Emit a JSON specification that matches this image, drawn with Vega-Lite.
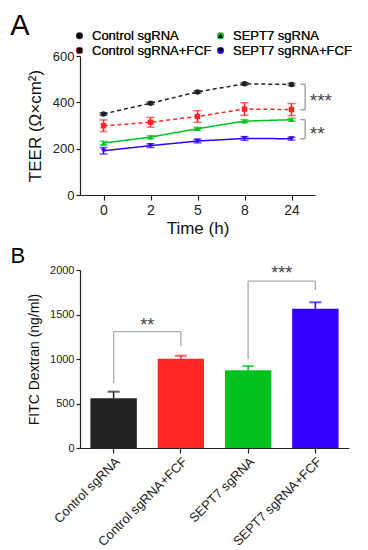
{
  "$schema": "https://vega.github.io/schema/vega-lite/v6.json",
  "padding": {"left": 10, "top": 12, "right": 5, "bottom": 5},
  "spacing": 9,
  "config": {
    "font": "Liberation Sans",
    "view": {"stroke": null},
    "axis": {"grid": false, "domainColor": "#222", "tickColor": "#222", "labelColor": "#222", "titleColor": "#111", "titleFontWeight": "normal", "labelFont": "Liberation Sans", "titleFont": "Liberation Sans", "domainWidth": 1.2, "tickWidth": 1.2},
    "legend": {"labelFont": "Liberation Sans"}
  },
  "vconcat": [
    {
      "title": {"text": "A", "fontSize": 29, "fontWeight": "normal", "anchor": "start", "frame": "bounds", "offset": 9, "dx": -16, "color": "#000"},
      "width": 235,
      "height": 139,
      "resolve": {"scale": {"x": "independent", "y": "independent"}},
      "layer": [
        {
          "data": {"values": [
            {"time": "0", "group": "Control sgRNA", "mean": 350, "lo": 345, "hi": 355},
            {"time": "2", "group": "Control sgRNA", "mean": 396, "lo": 391, "hi": 401},
            {"time": "5", "group": "Control sgRNA", "mean": 445, "lo": 440, "hi": 450},
            {"time": "8", "group": "Control sgRNA", "mean": 480, "lo": 475, "hi": 485},
            {"time": "24", "group": "Control sgRNA", "mean": 477, "lo": 472, "hi": 482},
            {"time": "0", "group": "Control sgRNA+FCF", "mean": 299, "lo": 274, "hi": 324},
            {"time": "2", "group": "Control sgRNA+FCF", "mean": 314, "lo": 293, "hi": 335},
            {"time": "5", "group": "Control sgRNA+FCF", "mean": 339, "lo": 314, "hi": 364},
            {"time": "8", "group": "Control sgRNA+FCF", "mean": 371, "lo": 344, "hi": 398},
            {"time": "24", "group": "Control sgRNA+FCF", "mean": 369, "lo": 343, "hi": 395},
            {"time": "0", "group": "SEPT7 sgRNA", "mean": 224, "lo": 216, "hi": 232},
            {"time": "2", "group": "SEPT7 sgRNA", "mean": 250, "lo": 244, "hi": 256},
            {"time": "5", "group": "SEPT7 sgRNA", "mean": 286, "lo": 280, "hi": 292},
            {"time": "8", "group": "SEPT7 sgRNA", "mean": 319, "lo": 313, "hi": 325},
            {"time": "24", "group": "SEPT7 sgRNA", "mean": 325, "lo": 319, "hi": 331},
            {"time": "0", "group": "SEPT7 sgRNA+FCF", "mean": 191, "lo": 177, "hi": 205},
            {"time": "2", "group": "SEPT7 sgRNA+FCF", "mean": 213, "lo": 205, "hi": 221},
            {"time": "5", "group": "SEPT7 sgRNA+FCF", "mean": 233, "lo": 225, "hi": 241},
            {"time": "8", "group": "SEPT7 sgRNA+FCF", "mean": 244, "lo": 236, "hi": 252},
            {"time": "24", "group": "SEPT7 sgRNA+FCF", "mean": 243, "lo": 237, "hi": 249}
          ]},
          "encoding": {
            "x": {"field": "time", "type": "ordinal", "sort": ["0", "2", "5", "8", "24"], "scale": {"type": "point", "padding": 0.5},
              "axis": {"title": "Time (h)", "labelAngle": 0, "labelFontSize": 14, "titleFontSize": 17, "tickSize": 5, "labelPadding": 3, "titlePadding": 3}},
            "y": {"type": "quantitative", "scale": {"domain": [0, 600]},
              "axis": {"title": "TEER (Ω×cm²)", "values": [0, 200, 400, 600], "labelFontSize": 13, "titleFontSize": 17, "tickSize": 4, "titlePadding": 8}},
            "color": {"field": "group", "type": "nominal",
              "scale": {"domain": ["Control sgRNA", "SEPT7 sgRNA", "Control sgRNA+FCF", "SEPT7 sgRNA+FCF"], "range": ["#222222", "#00c21e", "#ff2626", "#3300ff"]},
              "legend": {"title": null, "orient": "none", "direction": "horizontal", "legendX": -7, "legendY": -27, "columns": 2, "columnPadding": 2, "rowPadding": 1, "labelFontSize": 13, "labelColor": "#111", "symbolSize": 30, "labelOffset": 6}}
          },
          "layer": [
            {"mark": {"type": "point", "filled": true, "opacity": 1, "size": 30},
              "encoding": {"y": {"field": "mean"},
                "shape": {"field": "group", "type": "nominal",
                  "scale": {"domain": ["Control sgRNA", "SEPT7 sgRNA", "Control sgRNA+FCF", "SEPT7 sgRNA+FCF"], "range": ["circle", "triangle-up", "square", "triangle-down"]},
                  "legend": {"title": null, "orient": "none", "direction": "horizontal", "legendX": -7, "legendY": -27, "columns": 2, "columnPadding": 2, "rowPadding": 1, "labelFontSize": 13, "labelColor": "#111", "symbolSize": 30, "labelOffset": 6}}}},
            {"mark": {"type": "line", "strokeWidth": 1.5},
              "encoding": {"y": {"field": "mean"},
                "strokeDash": {"field": "group", "type": "nominal", "legend": null,
                  "scale": {"domain": ["Control sgRNA", "SEPT7 sgRNA", "Control sgRNA+FCF", "SEPT7 sgRNA+FCF"], "range": [[4, 3], [1, 0], [4, 3], [1, 0]]}}}},
            {"mark": {"type": "rule", "strokeWidth": 1.5}, "encoding": {"y": {"field": "lo"}, "y2": {"field": "hi"}}},
            {"mark": {"type": "tick", "size": 8, "thickness": 1.5}, "encoding": {"y": {"field": "lo"}}},
            {"mark": {"type": "tick", "size": 8, "thickness": 1.5}, "encoding": {"y": {"field": "hi"}}}
          ]
        },
        {
          "data": {"values": [
            {"x": 4.29, "x2": 4.29, "y": 478, "y2": 368},
            {"x": 4.19, "x2": 4.29, "y": 478, "y2": 478},
            {"x": 4.19, "x2": 4.29, "y": 368, "y2": 368},
            {"x": 4.29, "x2": 4.29, "y": 325, "y2": 243},
            {"x": 4.19, "x2": 4.29, "y": 325, "y2": 325},
            {"x": 4.19, "x2": 4.29, "y": 243, "y2": 243}
          ]},
          "mark": {"type": "rule", "color": "#999", "strokeWidth": 1.3},
          "encoding": {
            "x": {"field": "x", "type": "quantitative", "scale": {"domain": [-0.5, 4.5]}, "axis": null},
            "x2": {"field": "x2"},
            "y": {"field": "y", "type": "quantitative", "scale": {"domain": [0, 600]}, "axis": null},
            "y2": {"field": "y2"}
          }
        },
        {
          "data": {"values": [
            {"x": 4.39, "y": 406, "label": "***"},
            {"x": 4.39, "y": 264, "label": "**"}
          ]},
          "mark": {"type": "text", "align": "left", "baseline": "middle", "fontSize": 19, "color": "#444"},
          "encoding": {
            "x": {"field": "x", "type": "quantitative", "scale": {"domain": [-0.5, 4.5]}, "axis": null},
            "y": {"field": "y", "type": "quantitative", "scale": {"domain": [0, 600]}, "axis": null},
            "text": {"field": "label"}
          }
        }
      ]
    },
    {
      "title": {"text": "B", "fontSize": 22, "fontWeight": "normal", "anchor": "start", "frame": "bounds", "offset": -4, "dx": -17, "color": "#000"},
      "width": 269,
      "height": 178,
      "resolve": {"scale": {"x": "independent", "y": "independent"}},
      "layer": [
        {
          "data": {"values": [
            {"group": "Control sgRNA", "mean": 558, "hi": 633},
            {"group": "Control sgRNA+FCF", "mean": 1003, "hi": 1037},
            {"group": "SEPT7 sgRNA", "mean": 873, "hi": 921},
            {"group": "SEPT7 sgRNA+FCF", "mean": 1565, "hi": 1637}
          ]},
          "encoding": {
            "x": {"field": "group", "type": "nominal", "sort": null, "scale": {"paddingInner": 0.31, "paddingOuter": 0.155},
              "axis": {"title": null, "labelAngle": -45, "labelFontSize": 13, "tickSize": 5, "labelPadding": 2}},
            "y": {"type": "quantitative", "scale": {"domain": [0, 2000]},
              "axis": {"title": "FITC Dextran (ng/ml)", "values": [0, 500, 1000, 1500, 2000], "format": "d", "labelFontSize": 11, "titleFontSize": 14, "tickSize": 4, "titlePadding": 8}},
            "color": {"field": "group", "type": "nominal", "legend": null,
              "scale": {"domain": ["Control sgRNA", "Control sgRNA+FCF", "SEPT7 sgRNA", "SEPT7 sgRNA+FCF"], "range": ["#000000", "#ff2026", "#00c21e", "#3300ff"]}}
          },
          "layer": [
            {"mark": {"type": "rule", "strokeWidth": 1.6}, "encoding": {"y": {"field": "mean"}, "y2": {"field": "hi"}}},
            {"mark": {"type": "tick", "size": 12, "thickness": 2}, "encoding": {"y": {"field": "hi"}}},
            {"mark": {"type": "bar"}, "encoding": {"y": {"field": "mean"}}}
          ]
        },
        {
          "data": {"values": [
            {"x": 0, "x2": 0, "y": 730, "y2": 1307},
            {"x": 0, "x2": 1, "y": 1307, "y2": 1307},
            {"x": 1, "x2": 1, "y": 1146, "y2": 1307},
            {"x": 2, "x2": 2, "y": 1000, "y2": 1876},
            {"x": 2, "x2": 3, "y": 1876, "y2": 1876},
            {"x": 3, "x2": 3, "y": 1775, "y2": 1876}
          ]},
          "mark": {"type": "rule", "color": "#aaa", "strokeWidth": 1.3},
          "encoding": {
            "x": {"field": "x", "type": "quantitative", "scale": {"domain": [-0.5, 3.5]}, "axis": null},
            "x2": {"field": "x2"},
            "y": {"field": "y", "type": "quantitative", "scale": {"domain": [0, 2000]}, "axis": null},
            "y2": {"field": "y2"}
          }
        },
        {
          "data": {"values": [
            {"x": 0.5, "y": 1370, "label": "**"},
            {"x": 2.5, "y": 1950, "label": "***"}
          ]},
          "mark": {"type": "text", "align": "center", "baseline": "middle", "fontSize": 18, "color": "#444"},
          "encoding": {
            "x": {"field": "x", "type": "quantitative", "scale": {"domain": [-0.5, 3.5]}, "axis": null},
            "y": {"field": "y", "type": "quantitative", "scale": {"domain": [0, 2000]}, "axis": null},
            "text": {"field": "label"}
          }
        }
      ]
    }
  ]
}
